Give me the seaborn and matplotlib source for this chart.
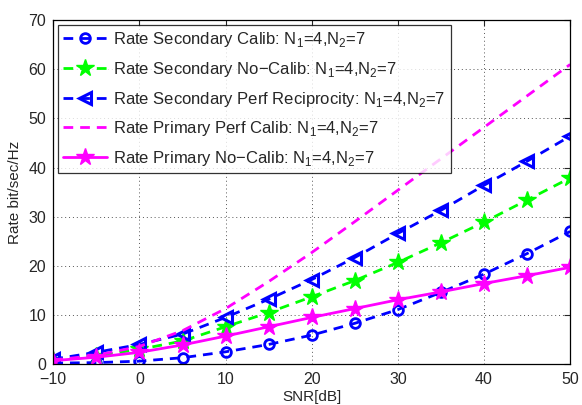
"""
Rate vs SNR 曲线 (secondary / primary)
"""
import matplotlib
matplotlib.use('Agg')
import matplotlib.pyplot as plt
import seaborn as sns
import pandas as pd

# 数据
snr = [-10, -5, 0, 5, 10, 15, 20, 25, 30, 35, 40, 45, 50]
sec_calib = [0.2, 0.3, 0.6, 1.3, 2.5, 4.0, 5.9, 8.3, 11.1, 14.6, 18.3, 22.5, 27.0]
sec_nocalib = [0.9, 1.7, 3.0, 4.7, 7.6, 10.5, 13.7, 17.0, 20.7, 24.7, 28.9, 33.4, 37.9]
sec_perf = [1.0, 2.4, 4.0, 6.1, 9.5, 13.2, 17.2, 21.7, 26.6, 31.3, 36.4, 41.3, 46.4]
pri_perf = [0.8, 1.8, 3.6, 6.8, 11.3, 16.8, 22.7, 29.0, 35.4, 41.8, 48.2, 54.6, 61.0]
pri_nocalib = [0.7, 1.4, 2.4, 3.9, 5.7, 7.6, 9.5, 11.3, 13.1, 14.7, 16.4, 18.0, 19.7]

sub = r': N$_1$=4,N$_2$=7'
labels = [
    'Rate Secondary Calib' + sub,
    'Rate Secondary No\u2212Calib' + sub,
    'Rate Secondary Perf Reciprocity' + sub,
    'Rate Primary Perf Calib' + sub,
    'Rate Primary No\u2212Calib' + sub,
]
series = [sec_calib, sec_nocalib, sec_perf, pri_perf, pri_nocalib]

# 样式
dash = (0, (3.5, 2.5))
styles = [
    dict(color='#0000ff', ls=dash, marker='o', mfc='none', ms=7, mew=2),
    dict(color='#00ff00', ls=dash, marker='*', mfc='#00ff00', ms=13, mew=1),
    dict(color='#0000ff', ls=dash, marker='<', mfc='none', ms=9, mew=2.2),
    dict(color='#ff00ff', ls=dash, marker=None),
    dict(color='#ff00ff', ls='-', marker='*', mfc='#ff00ff', ms=13, mew=1),
]

sns.set_style('white')
plt.rcParams['font.family'] = ['Liberation Sans', 'DejaVu Sans']
plt.rcParams['mathtext.fontset'] = 'custom'
plt.rcParams['mathtext.rm'] = 'Liberation Sans'

fig = plt.figure(figsize=(5.82, 4.05), dpi=100)
ax = fig.add_axes([0.0916, 0.101, 0.888, 0.849])

for lab, vals, st in zip(labels, series, styles):
    df = pd.DataFrame({'snr': snr, 'rate': vals})
    st = dict(st)
    color = st.pop('color')
    sns.lineplot(data=df, x='snr', y='rate', ax=ax, color=color,
                 linestyle=st.pop('ls'), marker=st.pop('marker'),
                 markerfacecolor=st.pop('mfc', None), markeredgecolor=color,
                 markersize=st.pop('ms', 6), markeredgewidth=st.pop('mew', 1),
                 linewidth=2, label=lab)

ax.set_xlim(-10, 50)
ax.set_ylim(0, 70)
ax.set_xticks(range(-10, 51, 10))
ax.set_yticks(range(0, 71, 10))
ax.grid(True, linestyle=(0, (1, 3)), color='#555555', linewidth=0.7)
ax.tick_params(direction='in', top=True, right=True, length=4, labelsize=11.5,
               width=0.8, pad=5)
ax.tick_params(axis='x', pad=6)
for s in ax.spines.values():
    s.set_color('black')
    s.set_linewidth(0.9)

ax.set_xlabel('SNR[dB]', fontsize=11, labelpad=2)
ax.set_ylabel('Rate bit/sec/Hz', fontsize=11, labelpad=5)

leg = ax.legend(loc='upper left', fontsize=12, frameon=True, fancybox=False,
                edgecolor='black', handlelength=2.6, borderpad=0.3,
                labelspacing=0.64, borderaxespad=0.3, handletextpad=0.4)
leg.get_frame().set_linewidth(0.9)

plt.savefig('out.png', dpi=100)
plt.close()
